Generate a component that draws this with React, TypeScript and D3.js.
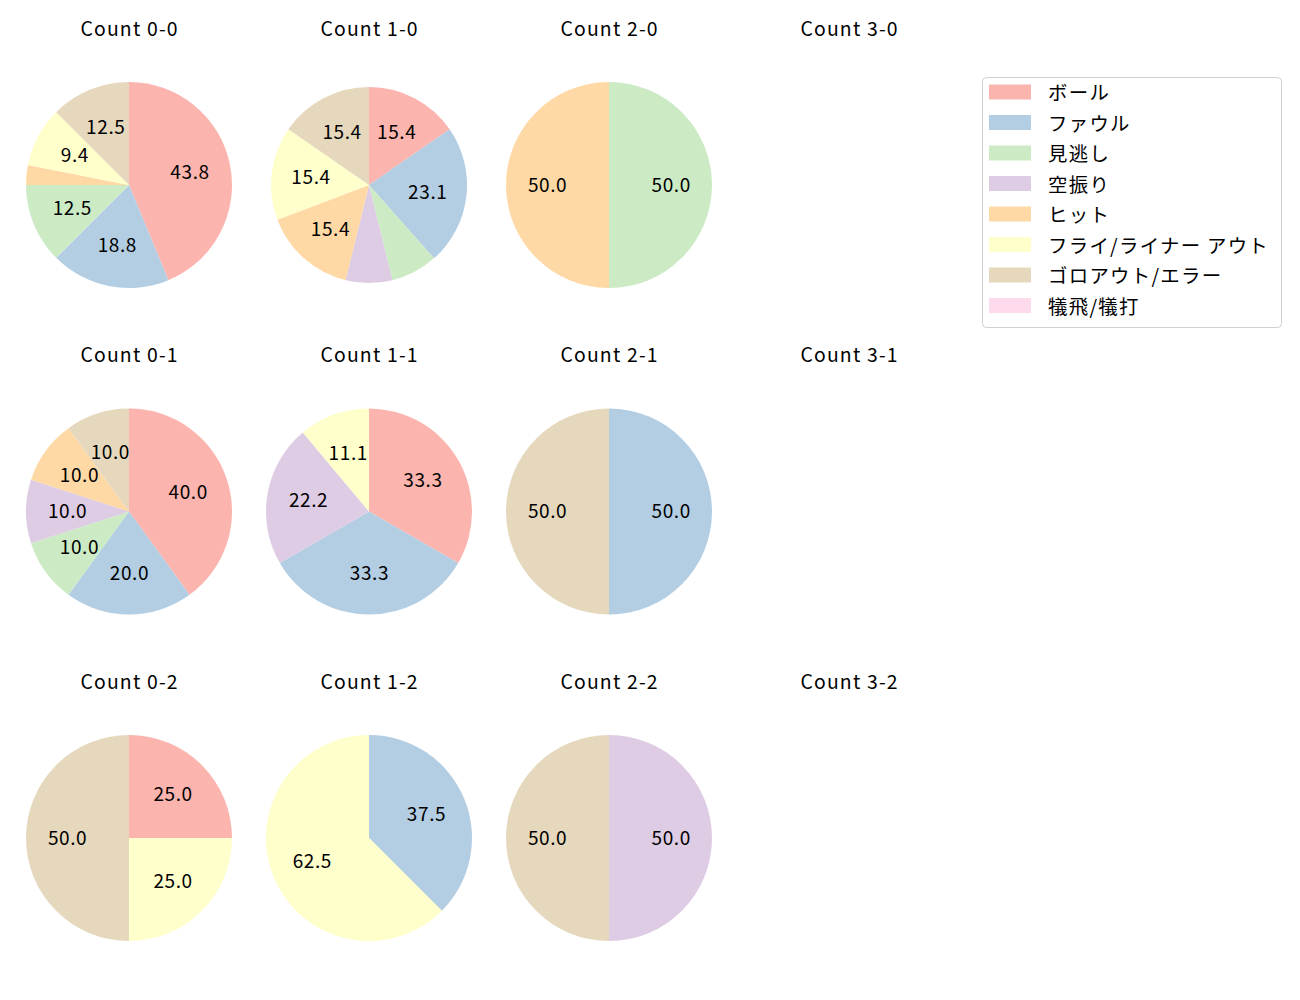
import React, { useRef, useEffect } from "react";
import * as d3 from "d3";

const categories = [
  "ボール",
  "ファウル",
  "見逃し",
  "空振り",
  "ヒット",
  "フライ/ライナー アウト",
  "ゴロアウト/エラー",
  "犠飛/犠打",
];
const colors = ["#fbb4ae", "#b3cde3", "#ccebc5", "#decbe4", "#fed9a6", "#ffffcc", "#e5d8bd", "#fddaec"];

// counts per result category, clockwise from the top
const count00 = [14, 6, 4, 0, 1, 3, 4, 0];
const count10 = [2, 3, 1, 1, 2, 2, 2, 0];
const count20 = [0, 0, 1, 0, 1, 0, 0, 0];
const count30: number[] = [];
const count01 = [4, 2, 1, 1, 1, 0, 1, 0];
const count11 = [3, 3, 0, 2, 0, 1, 0, 0];
const count21 = [0, 1, 0, 0, 0, 0, 1, 0];
const count31: number[] = [];
const count02 = [1, 0, 0, 0, 0, 1, 2, 0];
const count12 = [0, 3, 0, 0, 0, 5, 0, 0];
const count22 = [0, 0, 0, 1, 0, 0, 1, 0];
const count32: number[] = [];

const balls = [0, 1, 2, 3];
const strikes = [0, 1, 2];
const panels = [
  [count00, count10, count20, count30],
  [count01, count11, count21, count31],
  [count02, count12, count22, count32],
];

const App = () => {
  const svgRef = useRef<SVGSVGElement>(null);

  useEffect(() => {
    const svg = d3.select(svgRef.current);
    svg.selectAll("*").remove();

    const colX = d3.scaleLinear().domain([0, 3]).range([129, 849]);
    const rowY = d3.scaleLinear().domain([0, 2]).range([185, 838]);
    const radius = 103;
    const font = "'Noto Sans CJK JP', 'Noto Sans', sans-serif";

    const pie = d3
      .pie<number>()
      .sort(null)
      .value((d) => d);

    strikes.forEach((s) => {
      balls.forEach((b) => {
        const values = panels[s][b];
        const cx = colX(b);
        const cy = rowY(s);
        // 1-0 pie is drawn a bit smaller in the original
        const r = s === 0 && b === 1 ? 98 : radius;

        const g = svg.append("g").attr("transform", `translate(${cx},${cy})`);

        svg
          .append("text")
          .attr("x", cx + 0.6)
          .attr("y", cy - 149.3)
          .attr("text-anchor", "middle")
          .style("font-family", font)
          .style("font-size", "19.4px")
          .style("letter-spacing", "1.2px")
          .style("fill", "#000")
          .text(`Count ${b}-${s}`);

        if (!values.length) return;

        const total = d3.sum(values);
        const arcs = pie(values);
        const arc = d3.arc<d3.PieArcDatum<number>>().innerRadius(0).outerRadius(r);
        const labelArc = d3
          .arc<d3.PieArcDatum<number>>()
          .innerRadius(r * 0.6)
          .outerRadius(r * 0.6);

        g.selectAll("path")
          .data(arcs.filter((d) => d.value > 0))
          .enter()
          .append("path")
          .attr("d", arc)
          .style("fill", (d) => colors[d.index]);

        // autopct: small wedges are left unlabelled
        g.selectAll("text")
          .data(arcs.filter((d) => (d.value / total) * 100 >= 8))
          .enter()
          .append("text")
          .attr("transform", (d) => {
            const [x, y] = labelArc.centroid(d);
            return `translate(${x + 0.4},${y - 2})`;
          })
          .attr("text-anchor", "middle")
          .attr("dominant-baseline", "central")
          .style("font-family", font)
          .style("font-size", "19px")
          .style("letter-spacing", "0.6px")
          .style("fill", "#000")
          .text((d) => ((d.value / total) * 100).toFixed(1));
      });
    });

    // legend
    const legend = svg.append("g").attr("transform", "translate(982,77)");
    legend
      .append("rect")
      .attr("x", 0.5)
      .attr("y", 0.5)
      .attr("width", 299)
      .attr("height", 250)
      .attr("rx", 4)
      .style("fill", "#fff")
      .style("fill-opacity", 0.8)
      .style("stroke", "#d0d0d0");

    const rowScale = d3.scaleLinear().domain([0, 7]).range([15, 228.5]);
    const items = legend
      .selectAll(".item")
      .data(categories)
      .enter()
      .append("g")
      .attr("class", "item")
      .attr("transform", (d, i) => `translate(0,${rowScale(i)})`);

    items
      .append("rect")
      .attr("x", 7)
      .attr("y", -7.5)
      .attr("width", 42)
      .attr("height", 15)
      .style("fill", (d, i) => colors[i]);

    items
      .append("text")
      .attr("x", 66)
      .attr("y", -0.5)
      .attr("dominant-baseline", "central")
      .style("font-family", font)
      .style("font-size", "19.4px")
      .style("letter-spacing", "1.3px")
      .style("fill", "#000")
      .text((d) => d);
  }, []);

  return (
    <svg
      ref={svgRef}
      width={1300}
      height={1000}
      style={{ position: "absolute", left: 0, top: 0, background: "#fff" }}
    ></svg>
  );
};

export default App;
